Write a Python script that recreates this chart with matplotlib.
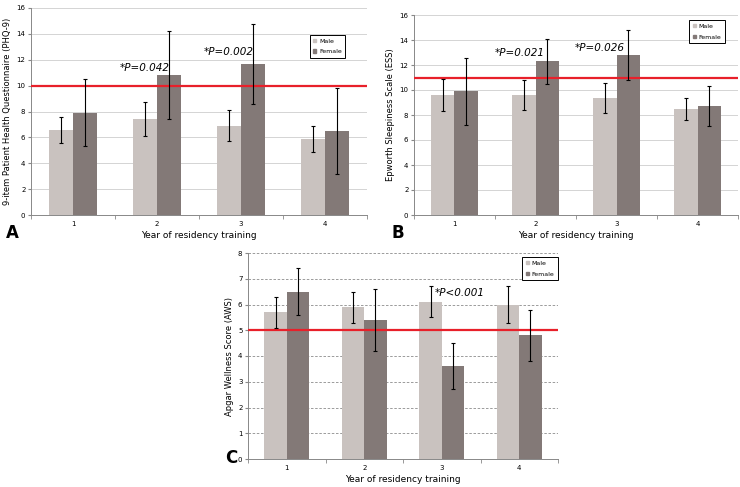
import matplotlib.pyplot as plt
from matplotlib.patches import Patch
import numpy as np

years = ["1", "2", "3", "4"]

phq_male = [6.6, 7.4, 6.9, 5.9]
phq_male_err = [1.0, 1.3, 1.2, 1.0]
phq_female = [7.9, 10.8, 11.7, 6.5]
phq_female_err = [2.6, 3.4, 3.1, 3.3]

ess_male = [9.6, 9.6, 9.4, 8.5]
ess_male_err = [1.3, 1.2, 1.2, 0.9]
ess_female = [9.9, 12.3, 12.8, 8.7]
ess_female_err = [2.7, 1.8, 2.0, 1.6]

aws_male = [5.7, 5.9, 6.1, 6.0]
aws_male_err = [0.6, 0.6, 0.6, 0.7]
aws_female = [6.5, 5.4, 3.6, 4.8]
aws_female_err = [0.9, 1.2, 0.9, 1.0]

male_color = "#c9c2bf"
female_color = "#837977"
red = "#e8202a"

W, H = 740, 487
fig = plt.figure(figsize=(W / 100, H / 100), dpi=100)


def px_axes(left, right, top, bottom):
    return fig.add_axes([left / W, (H - bottom) / H, (right - left) / W, (bottom - top) / H])


def draw_panel(ax, male, male_err, female, female_err, ymax, ystep, thresh, ylabel,
               grid_style, notes, leg_anchor):
    x = np.arange(len(years))
    w = 0.29
    ax.bar(x - w / 2, male, w, color=male_color, zorder=2)
    ax.bar(x + w / 2, female, w, color=female_color, zorder=2)
    ax.errorbar(x - w / 2, male, yerr=male_err, fmt="none", ecolor="black",
                elinewidth=0.8, capsize=1.5, capthick=0.8, zorder=4)
    ax.errorbar(x + w / 2, female, yerr=female_err, fmt="none", ecolor="black",
                elinewidth=0.8, capsize=1.5, capthick=0.8, zorder=4)
    ax.axhline(thresh, color=red, lw=1.6, zorder=3)
    ax.set_xlim(-0.5, len(years) - 0.5)
    ax.set_ylim(0, ymax)
    ax.set_yticks(np.arange(0, ymax + 0.01, ystep))
    ax.set_xticks(x)
    ax.set_xticklabels(years)
    ax.set_xticks(np.arange(-0.5, len(years), 1), minor=True)
    ax.tick_params(axis="x", which="major", length=0, labelsize=5, pad=4)
    ax.tick_params(axis="x", which="minor", length=3, color="#888888")
    ax.tick_params(axis="y", length=2, labelsize=5, color="#888888", pad=2)
    if grid_style == "dashed":
        ax.yaxis.grid(True, color="#8c8c8c", lw=0.6, ls=(0, (3, 2)), zorder=0)
    else:
        ax.yaxis.grid(True, color="#d4d4d4", lw=0.7, zorder=0)
    for s in ["top", "right"]:
        ax.spines[s].set_visible(False)
    for s in ["left", "bottom"]:
        ax.spines[s].set_color("#888888")
        ax.spines[s].set_linewidth(0.7)
    ax.set_ylabel(ylabel, fontsize=6, labelpad=3)
    ax.set_xlabel("Year of residency training", fontsize=6.5, labelpad=3)
    for xx, yy, txt in notes:
        ax.text(xx, yy, txt, fontsize=7.5, style="italic", ha="center", va="center", zorder=5)
    handles = [Patch(color=male_color, label="Male"), Patch(color=female_color, label="Female")]
    leg = ax.legend(handles=handles, loc="upper right", bbox_to_anchor=leg_anchor,
                    fontsize=4.5, handlelength=0.5, handleheight=0.5, handletextpad=0.4,
                    borderpad=0.6, labelspacing=0.9, fancybox=False, framealpha=1)
    leg.get_frame().set_edgecolor("black")
    leg.get_frame().set_linewidth(0.7)


axA = px_axes(31, 367, 8, 215)
draw_panel(axA, phq_male, phq_male_err, phq_female, phq_female_err, 16, 2, 10,
           "9-item Patient Health Questionnaire (PHQ-9)", "solid",
           [(0.85, 11.4, "*P=0.042"), (1.85, 12.6, "*P=0.002")], (0.945, 0.885))

axB = px_axes(414, 738, 15, 215)
draw_panel(axB, ess_male, ess_male_err, ess_female, ess_female_err, 16, 2, 11,
           "Epworth Sleepiness Scale (ESS)", "solid",
           [(0.81, 12.95, "*P=0.021"), (1.79, 13.4, "*P=0.026")], (0.97, 0.99))

axC = px_axes(248, 558, 253, 459)
draw_panel(axC, aws_male, aws_male_err, aws_female, aws_female_err, 8, 1, 5,
           "Apgar Wellness Score (AWS)", "dashed",
           [(2.23, 6.45, "*P<0.001")], (1.01, 0.995))

fig.text(6 / W, (H - 238) / H, "A", fontsize=12, fontweight="bold")
fig.text(391 / W, (H - 238) / H, "B", fontsize=12, fontweight="bold")
fig.text(225 / W, (H - 463) / H, "C", fontsize=12, fontweight="bold")

fig.savefig("out.png", dpi=100)
